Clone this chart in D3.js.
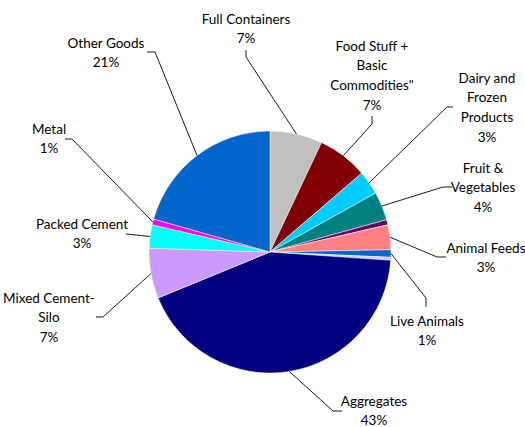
<!DOCTYPE html>
<html>
<head>
<meta charset="utf-8">
<script src="https://cdn.jsdelivr.net/npm/d3@7"></script>
<style>
  html, body { margin: 0; padding: 0; background: #fff; }
  svg { display: block; }
  text { font-family: Lato, "Open Sans", sans-serif; font-size: 13.5px; fill: #000; }
</style>
</head>
<body>
<svg id="chart" width="525" height="427"></svg>
<script>
// Cargo mix by category, clockwise from 12 o'clock (share of total, %)
const categories = [
  "Full Containers", "Food Stuff + Basic Commodities\"", "Dairy and Frozen Products",
  "Fruit & Vegetables", "", "Animal Feeds", "Live Animals", "",
  "Aggregates", "Mixed Cement-Silo", "Packed Cement", "Metal", "Other Goods"
];
const shares = [7.0, 6.7, 3.2, 3.8, 0.7, 3.3, 1.0, 0.4, 42.7, 6.7, 3.1, 0.8, 20.6];
const colors = [
  "#C0C0C0", "#800000", "#00CCFF", "#008080", "#660066", "#FF8080", "#0066CC",
  "#CCCCFF", "#000080", "#CC99FF", "#00FFFF", "#FF00FF", "#0066CC"
];
// Label text broken into lines (empty = slice carries no label)
const labelLines = [
  ["Full Containers"], ["Food Stuff +", "Basic", "Commodities\""], ["Dairy and", "Frozen", "Products"],
  ["Fruit &", "Vegetables"], [], ["Animal Feeds"], ["Live Animals"], [],
  ["Aggregates"], ["Mixed Cement-", "Silo"], ["Packed Cement"], ["Metal"], ["Other Goods"]
];

// Label placement: text centre x, first-line y, and leader elbow points (from slice outwards)
const labelLayout = [
  { x: 246, y: 19,  lead: [[246, 57], [246, 50]] },
  { x: 372, y: 46,  lead: [[372, 124], [372, 116]] },
  { x: 487, y: 78,  lead: [[447, 107], [453, 107]] },
  { x: 483, y: 168, lead: [[443, 187], [452, 187]] },
  null,
  { x: 486, y: 248, lead: [[437, 257], [446, 257]] },
  { x: 427, y: 321, lead: [[426, 298], [426, 307]] },
  null,
  { x: 374, y: 401, lead: [[333, 411], [342, 411]] },
  { x: 49,  y: 298, lead: [[103, 317], [96, 317]] },
  { x: 82,  y: 224, lead: [[126, 234]] },
  { x: 49,  y: 129, lead: [[72, 139], [65, 139]] },
  { x: 106, y: 43,  lead: [[155, 52], [147, 52]] }
];
const lineStep = 19.7;

const svg = d3.select("#chart");
const cx = 270, cy = 252, radius = 121;

const data = shares.map((v, i) => ({ name: categories[i], value: v, color: colors[i], i }));
const pie = d3.pie().sort(null).value(d => d.value).startAngle(0).endAngle(2 * Math.PI);
const arcs = pie(data);
const arc = d3.arc().innerRadius(0).outerRadius(radius);

const g = svg.append("g").attr("transform", `translate(${cx},${cy})`);
g.selectAll("path.slice")
  .data(arcs)
  .join("path")
  .attr("class", "slice")
  .attr("d", arc)
  .attr("fill", d => d.data.color)
  .attr("stroke", "#fff")
  .attr("stroke-width", 0.5);

// Leader lines from the slice's mid-angle on the rim to each label
const labelled = arcs.filter(d => labelLayout[d.data.i]);
svg.selectAll("path.leader")
  .data(labelled)
  .join("path")
  .attr("class", "leader")
  .attr("fill", "none")
  .attr("stroke", "#000")
  .attr("stroke-width", 0.9)
  .attr("d", d => {
    const a = (d.startAngle + d.endAngle) / 2;
    const start = [cx + radius * Math.sin(a), cy - radius * Math.cos(a)];
    return d3.line()([start, ...labelLayout[d.data.i].lead]);
  });

// Label text: name lines followed by the rounded percentage
const labels = svg.selectAll("text.label")
  .data(labelled)
  .join("text")
  .attr("class", "label")
  .attr("text-anchor", "middle");
labels.each(function (d) {
  const lay = labelLayout[d.data.i];
  const lines = [...labelLines[d.data.i], Math.round(d.data.value) + "%"];
  d3.select(this).selectAll("tspan")
    .data(lines)
    .join("tspan")
    .attr("x", lay.x)
    .attr("y", (t, k) => lay.y + k * lineStep)
    .attr("dy", "0.35em")
    .text(t => t);
});
</script>
</body>
</html>
